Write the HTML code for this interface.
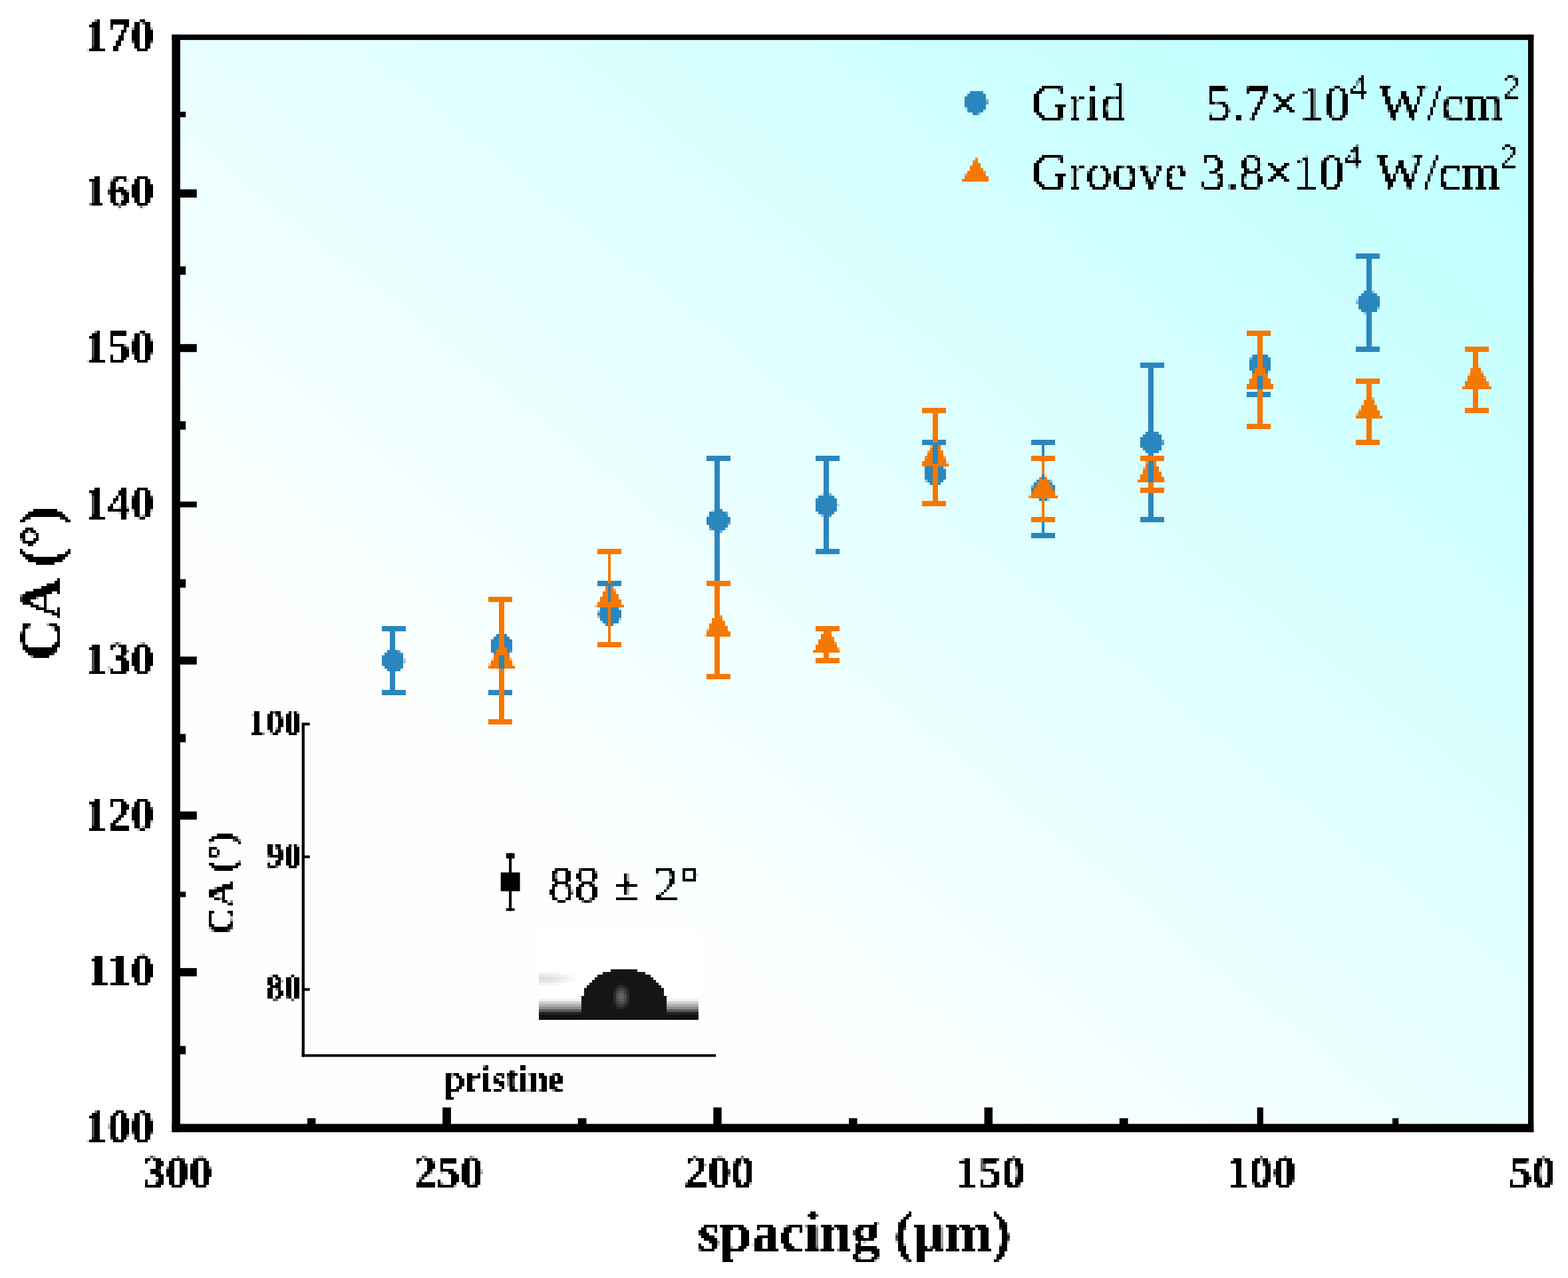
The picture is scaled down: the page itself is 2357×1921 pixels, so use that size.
<!DOCTYPE html>
<html lang="en"><head><meta charset="utf-8"><title>CA vs spacing</title>
<style>
html,body{margin:0;padding:0;background:#fff;}
body{width:2357px;height:1921px;overflow:hidden;}
svg{display:block;}
text{font-family:"Liberation Serif","Times New Roman",serif;fill:#000;filter:url(#tb);}
.b{font-weight:bold;}
.t{font-weight:bold;}
</style></head><body>
<svg xmlns="http://www.w3.org/2000/svg" width="2357" height="1921" viewBox="0 0 2357 1921">
<defs>
<linearGradient id="bg" x1="0" y1="1" x2="1" y2="0">
<stop offset="0" stop-color="#fdffff"/><stop offset="0.28" stop-color="#fdffff"/><stop offset="1" stop-color="#b9ffff"/></linearGradient>
<linearGradient id="band" x1="0" y1="0" x2="0" y2="1"><stop offset="0" stop-color="#f4f4f4"/><stop offset="0.2" stop-color="#d0d0d0"/><stop offset="0.45" stop-color="#a4a4a4"/><stop offset="0.68" stop-color="#7c7c7c"/><stop offset="0.85" stop-color="#3c3c3c"/><stop offset="1" stop-color="#1a1a1a"/></linearGradient>
<radialGradient id="hl" cx="0.5" cy="0.5" r="0.5"><stop offset="0" stop-color="#6a6a6a"/><stop offset="0.35" stop-color="#585858"/><stop offset="0.7" stop-color="#303030"/><stop offset="1" stop-color="#151515"/></radialGradient>
<radialGradient id="streak" cx="0.5" cy="0.5" r="0.5"><stop offset="0" stop-color="#dcdcdc"/><stop offset="0.5" stop-color="#e9e9e9"/><stop offset="1" stop-color="#ffffff"/></radialGradient>
<pattern id="dots" patternUnits="userSpaceOnUse" x="2" y="1" width="4" height="4"><rect x="1" y="1" width="1" height="1" fill="#fff" shape-rendering="crispEdges"/></pattern>
<mask id="samp" maskUnits="userSpaceOnUse" x="0" y="0" width="2357" height="1921"><rect x="0" y="0" width="2357" height="1921" fill="url(#dots)"/></mask>
<filter id="pix" filterUnits="userSpaceOnUse" x="0" y="0" width="2357" height="1921" color-interpolation-filters="sRGB"><feOffset in="SourceGraphic" dx="1" dy="0" result="a1"/><feMerge result="b"><feMergeNode in="SourceGraphic"/><feMergeNode in="a1"/></feMerge><feOffset in="b" dx="-1" dy="0" result="b1"/><feOffset in="b" dx="1" dy="0" result="b2"/><feMerge result="c"><feMergeNode in="b1"/><feMergeNode in="b2"/></feMerge><feOffset in="c" dx="0" dy="1" result="c1"/><feMerge result="d"><feMergeNode in="c"/><feMergeNode in="c1"/></feMerge><feOffset in="d" dx="0" dy="-1" result="d1"/><feOffset in="d" dx="0" dy="1" result="d2"/><feMerge result="e"><feMergeNode in="d1"/><feMergeNode in="d2"/></feMerge><feGaussianBlur in="e" stdDeviation="0.55"/></filter>
<filter id="tb" x="-5%" y="-20%" width="110%" height="140%" color-interpolation-filters="sRGB"><feGaussianBlur in="SourceAlpha" stdDeviation="0.9"/><feComponentTransfer><feFuncA type="linear" slope="6" intercept="-2.2"/></feComponentTransfer></filter>
<clipPath id="dclip"><rect x="810" y="1406" width="240" height="125.5"/></clipPath>
</defs>
<g id="chart">
<rect x="0" y="0" width="2357" height="1921" fill="#ffffff"/>
<rect x="258.4" y="51.9" width="2046.9" height="1649.9" fill="url(#bg)"/>
<g id="droplet" clip-path="url(#dclip)" shape-rendering="crispEdges">
<rect x="810.8" y="1406.4" width="240.8" height="124.9" fill="#ffffff"/>
<ellipse cx="812" cy="1470.5" rx="60" ry="11" fill="url(#streak)"/>
<rect x="810.8" y="1502" width="240.8" height="21.5" fill="url(#band)"/>
<rect x="810.8" y="1523" width="240.8" height="8.4" fill="#111111"/>
<path d="M872.6 1531.4 L872.6 1512 C873.5 1478 900 1456.4 937.5 1456.4 C975 1456.4 1001.5 1478 1002.4 1512 L1002.4 1531.4 Z" fill="#151515"/>
<ellipse cx="933.5" cy="1498" rx="14" ry="21" fill="url(#hl)"/>
</g>
<text class="b" x="453" y="1102.7" font-size="54" text-anchor="end">100</text>
<text class="b" x="453" y="1302.5" font-size="54" text-anchor="end">90</text>
<text class="b" x="453" y="1502" font-size="54" text-anchor="end">80</text>
<text class="b" x="758" y="1638.6" font-size="55" text-anchor="middle">pristine</text>
<text class="b" transform="translate(350.5 1327.5) rotate(-90)" font-size="57" text-anchor="middle">CA (°)</text>
<text x="824" y="1354.2" font-size="77">88 ± 2°</text>
<g id="grid-symbols">
<circle cx="590.4" cy="992.9" r="17.2" fill="#2b86be"/>
<circle cx="753.3" cy="969.4" r="17.2" fill="#2b86be"/>
<circle cx="916.2" cy="922.6" r="17.2" fill="#2b86be"/>
<circle cx="1079.2" cy="782.1" r="17.2" fill="#2b86be"/>
<circle cx="1242.1" cy="758.6" r="17.2" fill="#2b86be"/>
<circle cx="1405.0" cy="711.8" r="17.2" fill="#2b86be"/>
<circle cx="1567.9" cy="735.2" r="17.2" fill="#2b86be"/>
<circle cx="1730.8" cy="664.9" r="17.2" fill="#2b86be"/>
<circle cx="1893.7" cy="547.8" r="17.2" fill="#2b86be"/>
<circle cx="2056.6" cy="454.1" r="17.2" fill="#2b86be"/>
</g>
<g id="groove-symbols">
<path d="M750.0 969.9 L758.0 969.9 L774.3 1004.9 L732.3 1004.9 Z" fill="#f57800"/>
<path d="M914.0 876.2 L918.0 876.2 L937.2 911.2 L895.2 911.2 Z" fill="#f57800"/>
<path d="M1074.0 923.0 L1082.0 923.0 L1100.2 958.0 L1058.2 958.0 Z" fill="#f57800"/>
<path d="M1238.0 946.4 L1246.0 946.4 L1263.1 981.4 L1221.1 981.4 Z" fill="#f57800"/>
<path d="M1402.0 665.4 L1410.0 665.4 L1426.0 700.4 L1384.0 700.4 Z" fill="#f57800"/>
<path d="M1566.0 712.2 L1570.0 712.2 L1588.9 747.2 L1546.9 747.2 Z" fill="#f57800"/>
<path d="M1726.0 688.8 L1734.0 688.8 L1751.8 723.8 L1709.8 723.8 Z" fill="#f57800"/>
<path d="M1890.0 548.2 L1898.0 548.2 L1914.7 583.2 L1872.7 583.2 Z" fill="#f57800"/>
<path d="M2054.0 595.1 L2062.0 595.1 L2077.6 630.1 L2035.6 630.1 Z" fill="#f57800"/>
<path d="M2214.0 548.2 L2222.0 548.2 L2240.5 583.2 L2198.5 583.2 Z" fill="#f57800"/>
</g>
<g id="grid-errors" shape-rendering="crispEdges">
<rect x="586" y="945" width="8" height="31.5714" fill="#2b86be"/><rect x="586" y="1009.17" width="8" height="31.8286" fill="#2b86be"/><rect x="574" y="941" width="36" height="8" fill="#2b86be"/><rect x="574" y="1037" width="36" height="8" fill="#2b86be"/>
<rect x="750" y="901" width="8" height="52.1471" fill="#2b86be"/><rect x="750" y="985.747" width="8" height="55.2529" fill="#2b86be"/><rect x="734" y="897" width="36" height="8" fill="#2b86be"/><rect x="734" y="1037" width="36" height="8" fill="#2b86be"/>
<rect x="914" y="877" width="4" height="29.2986" fill="#2b86be"/><rect x="914" y="938.899" width="4" height="30.1014" fill="#2b86be"/><rect x="898" y="873" width="36" height="8" fill="#2b86be"/><rect x="898" y="965" width="36" height="8" fill="#2b86be"/>
<rect x="1074" y="689" width="8" height="76.7529" fill="#2b86be"/><rect x="1074" y="798.353" width="8" height="78.6471" fill="#2b86be"/><rect x="1062" y="685" width="36" height="8" fill="#2b86be"/><rect x="1062" y="873" width="36" height="8" fill="#2b86be"/>
<rect x="1238" y="689" width="8" height="53.3286" fill="#2b86be"/><rect x="1238" y="774.929" width="8" height="54.0714" fill="#2b86be"/><rect x="1226" y="685" width="36" height="8" fill="#2b86be"/><rect x="1226" y="825" width="36" height="8" fill="#2b86be"/>
<rect x="1402" y="665" width="8" height="30.48" fill="#2b86be"/><rect x="1402" y="728.08" width="8" height="28.92" fill="#2b86be"/><rect x="1386" y="661" width="36" height="8" fill="#2b86be"/><rect x="1386" y="753" width="36" height="8" fill="#2b86be"/>
<rect x="1566" y="665" width="4" height="53.9043" fill="#2b86be"/><rect x="1566" y="751.504" width="4" height="53.4957" fill="#2b86be"/><rect x="1550" y="661" width="36" height="8" fill="#2b86be"/><rect x="1550" y="801" width="36" height="8" fill="#2b86be"/>
<rect x="1726" y="549" width="8" height="99.6314" fill="#2b86be"/><rect x="1726" y="681.231" width="8" height="99.7686" fill="#2b86be"/><rect x="1714" y="545" width="36" height="8" fill="#2b86be"/><rect x="1714" y="777" width="36" height="8" fill="#2b86be"/>
<rect x="1890" y="501" width="8" height="30.51" fill="#2b86be"/><rect x="1890" y="564.11" width="8" height="28.89" fill="#2b86be"/><rect x="1874" y="497" width="36" height="8" fill="#2b86be"/><rect x="1874" y="589" width="36" height="8" fill="#2b86be"/>
<rect x="2054" y="385" width="8" height="52.8129" fill="#2b86be"/><rect x="2054" y="470.413" width="8" height="54.5871" fill="#2b86be"/><rect x="2038" y="381" width="36" height="8" fill="#2b86be"/><rect x="2038" y="521" width="36" height="8" fill="#2b86be"/>
</g>
<g id="groove-errors" shape-rendering="crispEdges">
<rect x="750" y="901" width="8" height="69.3714" fill="#f57800"/><rect x="750" y="1004.37" width="8" height="80.6286" fill="#f57800"/><rect x="734" y="897" width="36" height="8" fill="#f57800"/><rect x="734" y="1081" width="36" height="8" fill="#f57800"/>
<rect x="914" y="829" width="4" height="47.6743" fill="#f57800"/><rect x="914" y="910.674" width="4" height="58.3257" fill="#f57800"/><rect x="898" y="825" width="36" height="8" fill="#f57800"/><rect x="898" y="965" width="36" height="8" fill="#f57800"/>
<rect x="1074" y="877" width="8" height="46.5229" fill="#f57800"/><rect x="1074" y="957.523" width="8" height="59.4771" fill="#f57800"/><rect x="1062" y="873" width="36" height="8" fill="#f57800"/><rect x="1062" y="1013" width="36" height="8" fill="#f57800"/>
<rect x="1238" y="945" width="8" height="1.94714" fill="#f57800"/><rect x="1238" y="980.947" width="8" height="12.0529" fill="#f57800"/><rect x="1226" y="941" width="36" height="8" fill="#f57800"/><rect x="1226" y="989" width="36" height="8" fill="#f57800"/>
<rect x="1402" y="617" width="8" height="48.8557" fill="#f57800"/><rect x="1402" y="699.856" width="8" height="57.1443" fill="#f57800"/><rect x="1386" y="613" width="36" height="8" fill="#f57800"/><rect x="1386" y="753" width="36" height="8" fill="#f57800"/>
<rect x="1566" y="689" width="4" height="23.7043" fill="#f57800"/><rect x="1566" y="746.704" width="4" height="34.2957" fill="#f57800"/><rect x="1550" y="685" width="36" height="8" fill="#f57800"/><rect x="1550" y="777" width="36" height="8" fill="#f57800"/>
<rect x="1726" y="689" width="8" height="0.28" fill="#f57800"/><rect x="1726" y="723.28" width="8" height="13.72" fill="#f57800"/><rect x="1714" y="685" width="36" height="8" fill="#f57800"/><rect x="1714" y="733" width="36" height="8" fill="#f57800"/>
<rect x="1890" y="501" width="8" height="47.7343" fill="#f57800"/><rect x="1890" y="582.734" width="8" height="58.2657" fill="#f57800"/><rect x="1874" y="497" width="36" height="8" fill="#f57800"/><rect x="1874" y="637" width="36" height="8" fill="#f57800"/>
<rect x="2054" y="573" width="8" height="22.5829" fill="#f57800"/><rect x="2054" y="629.583" width="8" height="35.4171" fill="#f57800"/><rect x="2038" y="569" width="36" height="8" fill="#f57800"/><rect x="2038" y="661" width="36" height="8" fill="#f57800"/>
<rect x="2214" y="525" width="8" height="23.7343" fill="#f57800"/><rect x="2214" y="582.734" width="8" height="34.2657" fill="#f57800"/><rect x="2202" y="521" width="36" height="8" fill="#f57800"/><rect x="2202" y="613" width="36" height="8" fill="#f57800"/>
</g>
<g class="t" font-size="70">
<text x="231" y="1715.6" text-anchor="end">100</text>
<text x="231" y="1481.4" text-anchor="end">110</text>
<text x="231" y="1247.1" text-anchor="end">120</text>
<text x="231" y="1012.9" text-anchor="end">130</text>
<text x="231" y="778.6" text-anchor="end">140</text>
<text x="231" y="544.4" text-anchor="end">150</text>
<text x="231" y="310.1" text-anchor="end">160</text>
<text x="231" y="75.9" text-anchor="end">170</text>
<text x="266.1" y="1785" text-anchor="middle">300</text>
<text x="673.4" y="1785" text-anchor="middle">250</text>
<text x="1080.7" y="1785" text-anchor="middle">200</text>
<text x="1487.9" y="1785" text-anchor="middle">150</text>
<text x="1895.2" y="1785" text-anchor="middle">100</text>
<text x="2302.5" y="1785" text-anchor="middle">50</text>
</g>
<text class="b" x="1284" y="1880.3" font-size="85" text-anchor="middle">spacing (μm)</text>
<text class="b" transform="translate(88.5 876.4) rotate(-90)" font-size="86" text-anchor="middle">CA (°)</text>
<ellipse cx="1466.6" cy="153.2" rx="17.2" ry="18.2" fill="#2b86be"/>
<path d="M1466.7 236.4 L1487.7 271.8 L1445.8 271.8 Z" fill="#f57800"/>
<text x="1549.5" y="180.2" font-size="78" xml:space="preserve">Grid</text>
<text x="1812" y="180.2" font-size="77" xml:space="preserve">5.7×10<tspan font-size="50" dy="-33">4</tspan><tspan dy="33"> W/cm</tspan><tspan font-size="50" dy="-33">2</tspan></text>
<text x="1549.5" y="283.5" font-size="78" xml:space="preserve">Groove</text>
<text x="1803.5" y="283.5" font-size="77" xml:space="preserve">3.8×10<tspan font-size="50" dy="-33">4</tspan><tspan dy="33" dx="4"> W/cm</tspan><tspan font-size="50" dy="-33">2</tspan></text>
</g>
<g filter="url(#pix)"><use href="#chart" mask="url(#samp)"/></g>
<g id="inset-axes" fill="#000">
<rect x="453.6" y="1086.2" width="4.3" height="502.4"/>
<rect x="453.6" y="1584.6" width="622.5" height="4"/>
<rect x="457.9" y="1086.35" width="7.8" height="4.1"/>
<rect x="457.9" y="1285.85" width="7.8" height="4.1"/>
<rect x="457.9" y="1485.25" width="7.8" height="4.1"/>
<rect x="765" y="1282.5" width="4.1" height="86.7"/>
<rect x="760.8" y="1282.5" width="12.7" height="7.9"/>
<rect x="760.8" y="1365.2" width="12.7" height="4"/>
<rect x="752.7" y="1311.4" width="28.9" height="28.2"/>
</g>
<g id="frame" fill="#000">
<rect x="258.4" y="51.9" width="12.5" height="1649.9"/>
<rect x="2297" y="51.9" width="8.3" height="1649.9"/>
<rect x="258.4" y="51.9" width="2046.9" height="8.2"/>
<rect x="258.4" y="1689.35" width="2046.9" height="12.45"/>
<rect x="269.9" y="1572.28" width="9.3" height="12.4"/>
<rect x="269.9" y="1455.16" width="25.9" height="12.4"/>
<rect x="269.9" y="1340.4" width="9.3" height="8.1"/>
<rect x="269.9" y="1219.7" width="25.9" height="12.3"/>
<rect x="269.9" y="1103.2" width="9.3" height="12.5"/>
<rect x="269.9" y="986.9" width="25.9" height="12"/>
<rect x="269.9" y="870.5" width="9.3" height="12.9"/>
<rect x="269.9" y="753.9" width="25.9" height="8.7"/>
<rect x="269.9" y="633.2" width="9.3" height="12.6"/>
<rect x="269.9" y="517.2" width="25.9" height="12"/>
<rect x="269.9" y="400.4" width="9.3" height="12.6"/>
<rect x="269.9" y="284.6" width="25.9" height="12.4"/>
<rect x="269.9" y="167.9" width="9.3" height="8.3"/>
<rect x="2093.1" y="1680.8" width="9.2" height="9.55"/>
<rect x="1889.7" y="1664.6" width="9.2" height="25.75"/>
<rect x="1682.8" y="1680.8" width="12.8" height="9.55"/>
<rect x="1479.6" y="1664.6" width="12.4" height="25.75"/>
<rect x="1276" y="1680.8" width="12.5" height="9.55"/>
<rect x="1072.3" y="1664.6" width="12.4" height="25.75"/>
<rect x="868.7" y="1680.8" width="12.8" height="9.55"/>
<rect x="665.2" y="1664.6" width="12.7" height="25.75"/>
<rect x="462" y="1680.8" width="12.4" height="9.55"/>
</g>
</svg></body></html>
